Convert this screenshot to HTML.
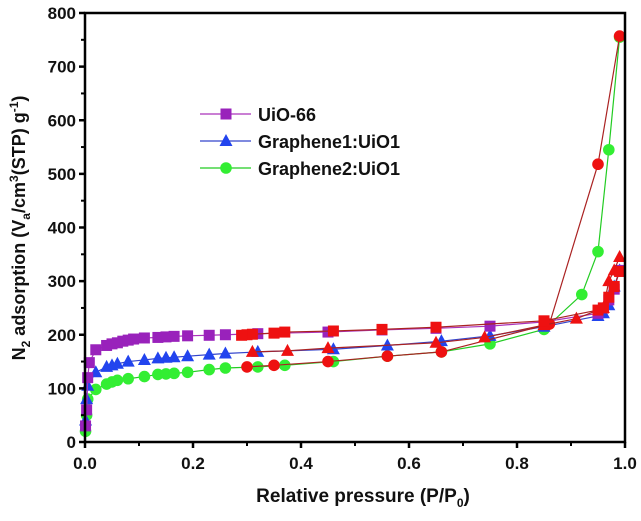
<!DOCTYPE html>
<html><head><meta charset="utf-8"><style>
body{margin:0;background:#fff;}
svg text{font-family:"Liberation Sans",Arial,sans-serif;font-weight:bold;fill:#111;}
</style></head><body>
<svg id="chart" width="641" height="516" viewBox="0 0 641 516" xmlns="http://www.w3.org/2000/svg">
<g id="marks"></g><g id="axes"></g><g id="legend"></g>
</svg>
<script>
const xTicks=[0,0.2,0.4,0.6,0.8,1.0];
const xTickLabels=["0.0","0.2","0.4","0.6","0.8","1.0"];
const yTicks=[0,100,200,300,400,500,600,700,800];
const yTickLabels=["0","100","200","300","400","500","600","700","800"];
const seriesNames=["UiO-66","Graphene1:UiO1","Graphene2:UiO1"];
const uioAdsX=[0.001,0.003,0.005,0.008,0.02,0.04,0.05,0.06,0.07,0.08,0.09,0.11,0.135,0.15,0.165,0.19,0.23,0.26,0.32,0.45,0.55,0.65,0.75,0.85,0.95,0.96,0.97,0.98,0.99];
const uioAdsY=[30,60,120,148,172,180,183,185,188,190,192,194,195,196,197,198,199,200,202,205,209,212,216,224,240,250,265,285,320];
const uioDesX=[0.99,0.98,0.97,0.96,0.95,0.85,0.65,0.55,0.46,0.37,0.35,0.31,0.30,0.29];
const uioDesY=[318,290,270,250,246,226,214,210,207,205,203,201,200,199];
const g1AdsX=[0.001,0.003,0.005,0.02,0.04,0.05,0.06,0.08,0.11,0.135,0.15,0.165,0.19,0.23,0.26,0.32,0.46,0.56,0.66,0.75,0.85,0.95,0.96,0.97,0.98,0.99];
const g1AdsY=[40,80,105,130,140,143,146,150,153,156,157,158,160,163,165,168,173,180,188,198,215,235,240,255,290,320];
const g1DesX=[0.99,0.98,0.97,0.96,0.91,0.85,0.74,0.65,0.45,0.375,0.31];
const g1DesY=[345,320,300,250,230,218,195,185,175,170,168];
const g2AdsX=[0.001,0.003,0.005,0.02,0.04,0.05,0.06,0.08,0.11,0.135,0.15,0.165,0.19,0.23,0.26,0.32,0.37,0.46,0.56,0.66,0.75,0.85,0.92,0.95,0.97,0.99];
const g2AdsY=[20,50,80,98,108,112,115,118,122,126,127,128,130,135,138,140,143,150,160,168,183,210,275,355,545,755];
const g2DesX=[0.99,0.95,0.86,0.66,0.56,0.45,0.35,0.30];
const g2DesY=[757,518,220,168,160,150,143,140];

const X0=85,X1=625,Y0=442,Y1=13;
const sx=v=>X0+(X1-X0)*v;
const sy=v=>Y0-(Y0-Y1)*v/800;
const NS="http://www.w3.org/2000/svg";
function mk(tag,attrs,parent){const e=document.createElementNS(NS,tag);for(const k in attrs)e.setAttribute(k,attrs[k]);parent.appendChild(e);return e;}
const marks=document.getElementById('marks'),axes=document.getElementById('axes'),legend=document.getElementById('legend');
function marker(shape,x,y,color,parent){
  let e;
  if(shape==='square'){e=mk('rect',{x:x-5.5,y:y-5.5,width:11,height:11,fill:color},parent);}
  else if(shape==='tri'){e=mk('polygon',{points:`${x},${y-7} ${x-6.5},${y+5} ${x+6.5},${y+5}`,fill:color},parent);}
  else {e=mk('circle',{cx:x,cy:y,r:5.8,fill:color},parent);}
  return e;
}
function series(xs,ys,line,fill,shape,name){
  const g=mk('g',{},marks);
  
  
  const pl=mk('polyline',{points:xs.map((v,i)=>sx(v)+','+sy(ys[i])).join(' '),fill:'none',stroke:line,'stroke-width':1.2},g);
  
  
  xs.forEach((v,i)=>{const m=marker(shape,sx(v),sy(ys[i]),fill,g);
    
    });
}
series(g2AdsX,g2AdsY,'#22cc22','#33ee33','circle','graphene2-adsorption');
series(g1AdsX,g1AdsY,'#3344cc','#2244ee','tri','graphene1-adsorption');
series(uioAdsX,uioAdsY,'#aa33bb','#9922bb','square','uio66-adsorption');
series(g2DesX,g2DesY,'#aa2222','#ee1111','circle','graphene2-desorption');
series(g1DesX,g1DesY,'#aa2222','#ee1111','tri','graphene1-desorption');
series(uioDesX,uioDesY,'#aa2222','#ee1111','square','uio66-desorption');

const frame=mk('rect',{x:X0,y:Y1,width:X1-X0,height:Y0-Y1,fill:'none',stroke:'#000','stroke-width':2.5},axes);


xTicks.forEach((v,i)=>{
  mk('line',{x1:sx(v),y1:Y0,x2:sx(v),y2:Y0+6,stroke:'#000','stroke-width':2.5},axes);
  if(i<xTicks.length-1){const m=(v+xTicks[i+1])/2;mk('line',{x1:sx(m),y1:Y0,x2:sx(m),y2:Y0+4,stroke:'#000','stroke-width':2},axes);}
  const t=mk('text',{x:sx(v),y:Y0+27,'text-anchor':'middle','font-size':17},axes);t.textContent=xTickLabels[i];
  
  
});
yTicks.forEach((v,i)=>{
  mk('line',{x1:X0-6,y1:sy(v),x2:X0,y2:sy(v),stroke:'#000','stroke-width':2.5},axes);
  if(i<yTicks.length-1){const m=(v+yTicks[i+1])/2;mk('line',{x1:X0-4,y1:sy(m),x2:X0,y2:sy(m),stroke:'#000','stroke-width':2},axes);}
  const t=mk('text',{x:X0-9,y:sy(v)+6,'text-anchor':'end','font-size':17},axes);t.textContent=yTickLabels[i];
  
  
});
const shapes=['square','tri','circle'],lc=['#aa33bb','#3344cc','#22cc22'],fc=['#9922bb','#2244ee','#33ee33'];
seriesNames.forEach((n,i)=>{
  const y=114+i*27;
  const g=mk('g',{},legend);
  
  
  mk('line',{x1:200,y1:y,x2:251,y2:y,stroke:lc[i],'stroke-width':1.2},g);
  marker(shapes[i],226,y,fc[i],g);
  const t=mk('text',{x:258,y:y+7,'font-size':18},g);t.textContent=n;
});
</script>
<div style="position:absolute;left:0;top:486px;width:641px;padding-left:85px;box-sizing:border-box;text-align:center;font:bold 19px 'Liberation Sans',sans-serif;color:#111;">Relative pressure (P/P<sub style="font-size:12px">0</sub>)</div>
<div style="position:absolute;left:20px;top:228px;width:0;height:0;"><div style="position:absolute;transform:translate(-50%,-50%) rotate(-90deg);white-space:nowrap;font:bold 18px 'Liberation Sans',sans-serif;color:#111;">N<sub style="font-size:12px">2</sub> adsorption (V<sub style="font-size:12px">a</sub>/cm<sup style="font-size:12px">3</sup>(STP) g<sup style="font-size:12px">-1</sup>)</div></div>
</body></html>
